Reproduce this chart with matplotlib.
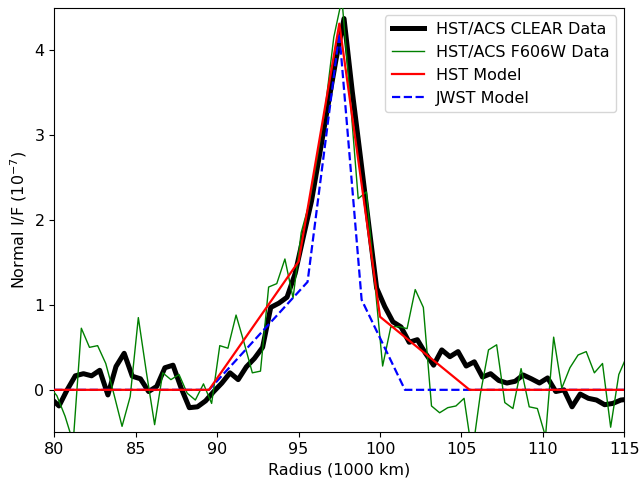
import matplotlib
matplotlib.use("Agg")
import matplotlib.pyplot as plt

plt.rcParams['font.size'] = 11.5

# HST/ACS CLEAR radial scan (radius in 1000 km, I/F in 1e-7)
clear_radius = [79.79, 80.29, 80.79, 81.29, 81.79, 82.29, 82.79, 83.29, 83.79, 84.29,
                84.79, 85.29, 85.79, 86.29, 86.79, 87.29, 87.79, 88.29, 88.79, 89.29,
                89.79, 90.29, 90.79, 91.29, 91.79, 92.29, 92.79, 93.29, 93.79, 94.29,
                94.79, 95.29, 95.79, 96.29, 96.79, 97.29, 97.79, 98.29, 98.79, 99.29,
                99.79, 100.29, 100.79, 101.29, 101.79, 102.29, 102.79, 103.29, 103.79, 104.29,
                104.79, 105.29, 105.79, 106.29, 106.79, 107.29, 107.79, 108.29, 108.79, 109.29,
                109.79, 110.29, 110.79, 111.29, 111.79, 112.29, 112.79, 113.29, 113.79, 114.29,
                114.79, 115.29]
clear_if = [-0.10, -0.19, 0.00, 0.165, 0.19, 0.165, 0.23, -0.06, 0.275, 0.43,
            0.16, 0.13, -0.02, 0.04, 0.26, 0.29, 0.02, -0.21, -0.20, -0.13,
            -0.02, 0.08, 0.20, 0.12, 0.27, 0.37, 0.50, 0.97, 1.02, 1.09,
            1.37, 1.80, 2.22, 2.77, 3.33, 3.88, 4.37, 3.52, 2.75, 1.97,
            1.20, 0.98, 0.80, 0.74, 0.56, 0.59, 0.43, 0.29, 0.47, 0.39,
            0.45, 0.28, 0.33, 0.15, 0.19, 0.11, 0.08, 0.10, 0.175, 0.13,
            0.08, 0.14, -0.02, 0.00, -0.20, -0.05, -0.10, -0.12, -0.175, -0.16,
            -0.12, -0.11]

# HST/ACS F606W radial scan
f606w_radius = [79.66, 80.16, 80.66, 81.16, 81.66, 82.16, 82.66, 83.16, 83.66, 84.16,
                84.66, 85.16, 85.66, 86.16, 86.66, 87.16, 87.66, 88.16, 88.66, 89.16,
                89.66, 90.16, 90.66, 91.16, 91.66, 92.16, 92.66, 93.16, 93.66, 94.16,
                94.66, 95.16, 95.66, 96.16, 96.66, 97.16, 97.66, 98.16, 98.66, 99.16,
                99.66, 100.16, 100.66, 101.16, 101.66, 102.16, 102.66, 103.16, 103.66, 104.16,
                104.66, 105.16, 105.66, 106.16, 106.66, 107.16, 107.66, 108.16, 108.66, 109.16,
                109.66, 110.16, 110.66, 111.16, 111.66, 112.16, 112.66, 113.16, 113.66, 114.16,
                114.66, 115.16]
f606w_if = [0.05, -0.07, -0.31, -0.62, 0.725, 0.50, 0.52, 0.31, -0.05, -0.43,
            -0.08, 0.85, 0.20, -0.41, 0.20, 0.12, 0.18, -0.04, -0.12, 0.07,
            -0.16, 0.52, 0.49, 0.88, 0.55, 0.20, 0.22, 1.21, 1.25, 1.54,
            1.08, 1.85, 2.20, 2.75, 3.35, 4.15, 4.60, 3.45, 2.25, 2.33,
            1.30, 0.28, 0.74, 0.745, 0.72, 1.18, 0.97, -0.19, -0.27, -0.21,
            -0.19, -0.10, -0.75, -0.05, 0.47, 0.53, -0.15, -0.22, 0.25, -0.20,
            -0.22, -0.55, 0.62, 0.02, 0.26, 0.41, 0.45, 0.20, 0.31, -0.44,
            0.18, 0.40]

# ring models
hst_radius = [80.0, 89.5, 95.0, 97.5, 100.0, 105.5, 115.0]
hst_if = [0.0, 0.0, 1.51, 4.31, 0.86, 0.0, 0.0]
jwst_radius = [80.0, 89.5, 95.55, 97.5, 98.87, 101.53, 115.0]
jwst_if = [0.0, 0.0, 1.27, 4.20, 1.06, 0.0, 0.0]

fig, ax = plt.subplots(figsize=(6.41, 4.84), dpi=100)
fig.subplots_adjust(left=0.0847, right=0.974, bottom=0.1068, top=0.9845)

ax.plot(clear_radius, clear_if, color='black', lw=3.6, label='HST/ACS CLEAR Data', zorder=2)
ax.plot(f606w_radius, f606w_if, color='green', lw=1.0, label='HST/ACS F606W Data', zorder=3)
ax.plot(hst_radius, hst_if, color='red', lw=1.6, label='HST Model', zorder=5)
ax.plot(jwst_radius, jwst_if, color='blue', lw=1.6, ls='--', label='JWST Model', zorder=4)

ax.set_xlim(80, 115)
ax.set_ylim(-0.5, 4.5)
ax.set_xticks([80, 85, 90, 95, 100, 105, 110, 115])
ax.set_yticks([0, 1, 2, 3, 4])
ax.set_xlabel('Radius (1000 km)')
ax.set_ylabel('Normal I/F ($10^{-7}$)')
ax.legend(loc='upper right')

fig.savefig('out.png', dpi=100)
